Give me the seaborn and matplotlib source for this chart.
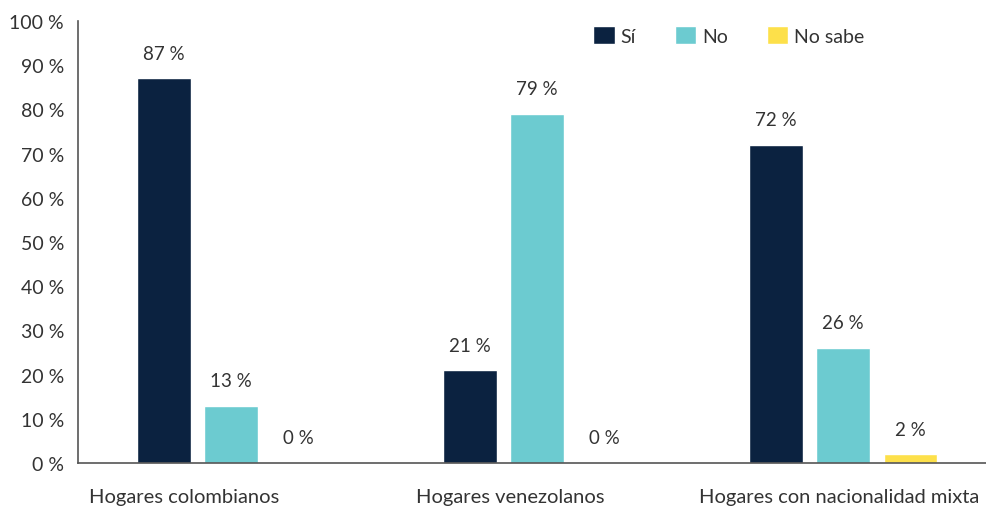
import seaborn as sns
import pandas as pd
import matplotlib.pyplot as plt
import matplotlib.transforms as mtransforms

# Data
grupos = ["Hogares colombianos", "Hogares venezolanos", "Hogares con nacionalidad mixta"]
respuestas = ["Sí", "No", "No sabe"]
si = [87, 21, 72]
no = [13, 79, 26]
no_sabe = [0, 0, 2]

colores = ["#0b2240", "#6ccbd0", "#fde04a"]

rows = []
for i, g in enumerate(grupos):
    rows.append((g, "Sí", si[i]))
    rows.append((g, "No", no[i]))
    rows.append((g, "No sabe", no_sabe[i]))
df = pd.DataFrame(rows, columns=["grupo", "respuesta", "valor"])

sns.set_style("white")
plt.rcParams["font.family"] = ["Lato", "DejaVu Sans"]

fig = plt.figure(figsize=(9.87, 5.10), dpi=100)
ax = fig.add_axes([0.079, 0.090, 0.921, 0.867])

sns.barplot(data=df, x="grupo", y="valor", hue="respuesta", hue_order=respuestas,
            palette=colores, width=0.66, gap=0.2, saturation=1, ax=ax)

# Value labels
for cont in ax.containers:
    ax.bar_label(cont, fmt="{:.0f} %", padding=12, fontsize=13.5, color="#333333")

ax.set_ylim(0, 100)
ax.set_xlim(-0.5, 2.47)
ax.set_yticks(range(0, 101, 10))
ax.set_yticklabels([f"{v} %" for v in range(0, 101, 10)], fontsize=14, color="#333333")
ax.tick_params(axis="x", labelsize=14.5, labelcolor="#333333", pad=18, length=0)
ax.tick_params(axis="y", pad=10, length=0)
ax.set_xlabel("")
ax.set_ylabel("")

# the category labels in the original sit slightly left of the group centre
offsets_px = [-47, -27, -4]
for lbl, dx in zip(ax.get_xticklabels(), offsets_px):
    lbl.set_transform(lbl.get_transform() + mtransforms.ScaledTranslation(dx / 100, 0, fig.dpi_scale_trans))

for s in ["top", "right"]:
    ax.spines[s].set_visible(False)
for s in ["left", "bottom"]:
    ax.spines[s].set_color("#555555")
    ax.spines[s].set_linewidth(1.2)

handles, labels = ax.get_legend_handles_labels()
ax.legend(handles, labels, ncol=3, loc="center", bbox_to_anchor=(0.716, 0.968),
          frameon=False, fontsize=14, handlelength=1.1, handleheight=1.1,
          handletextpad=0.3, columnspacing=2.0, labelcolor="#333333")

fig.savefig("out.png", dpi=100)
